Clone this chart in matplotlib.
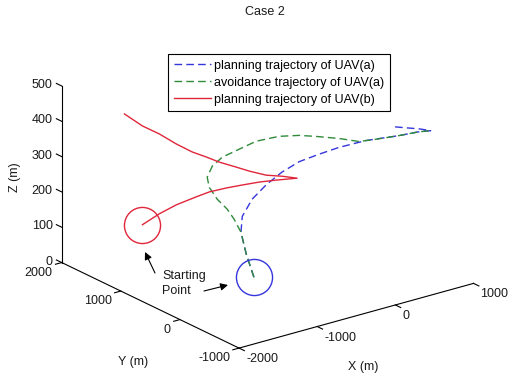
import numpy as np
import matplotlib
matplotlib.use("Agg")
import matplotlib.pyplot as plt
from matplotlib.patches import FancyArrowPatch
from mpl_toolkits.mplot3d import proj3d

plt.rcParams['font.family'] = ['Liberation Sans', 'DejaVu Sans']

# UAV(a) planning trajectory (m)
ua_plan_x = [-1280, -1310, -1310, -1240, -1050, -800, -590, -360, -170, 40, 300, 570, 750, 845, 750, 630, 540]
ua_plan_y = [-300, -210, -120, -50, 35, 120, 140, 150, 75, 10, -105, -300, -400, -480, -405, -310, -230]
ua_plan_z = [100, 160, 215, 250, 280, 300, 320, 335, 350, 362, 375, 388, 396, 400, 405, 408, 410]

# UAV(a) avoidance trajectory (m)
ua_avoid_x = [-1280, -1310, -1310, -1296, -1301, -1333, -1315, -1282, -1145, -989, -776, -546, -306, -139, -30, 110, 209, 340, 570, 750, 845]
ua_avoid_y = [-300, -210, -120, 14, 125, 252, 411, 488, 584, 621, 616, 634, 563, 445, 302, 99, -107, -187, -300, -400, -480]
ua_avoid_z = [100, 160, 215, 240, 260, 280, 300, 320, 335, 348, 358, 365, 370, 372, 374, 376, 378, 382, 388, 396, 400]

# UAV(b) planning trajectory (m)
ub_plan_x = [-1301, -1067, -867, -660, -531, -415, -325, -227, -145, -31, -180, -351, -492, -590, -721, -812, -919, -1033, -1121, -1231, -1306]
ub_plan_y = [1559, 1581, 1558, 1495, 1446, 1311, 1161, 1004, 825, 621, 678, 721, 822, 912, 1026, 1124, 1220, 1339, 1509, 1650, 1856]
ub_plan_z = [100, 115, 130, 145, 155, 170, 185, 200, 215, 230, 240, 250, 262, 272, 285, 297, 310, 330, 350, 368, 390]

x_ticks = [-2000, -1000, 0, 1000]
y_ticks = [-1000, 0, 1000, 2000]
z_ticks = [0, 100, 200, 300, 400, 500]

labels = ['planning trajectory of UAV(a)', 'avoidance trajectory of UAV(a)', 'planning trajectory of UAV(b)']

W, H = 516, 376
fig = plt.figure(figsize=(W / 100, H / 100), dpi=100)
ax = fig.add_axes([(W - H) / 2 / W, 0, H / W, 1], projection='3d', proj_type='ortho')
ax.set_xlim(x_ticks[0], x_ticks[-1])
ax.set_ylim(y_ticks[0], y_ticks[-1])
ax.set_zlim(z_ticks[0], z_ticks[-1])
ax.set_box_aspect((1, 1, 0.645))
ax.view_init(elev=21.4, azim=-127.1)
ax.set_axis_off()

blue, green, red = '#3535dc', '#2f8a3a', '#e0263a'
lb, = ax.plot(ua_plan_x, ua_plan_y, ua_plan_z, color=blue, lw=1.0, dashes=(5.5, 3))
lg, = ax.plot(ua_avoid_x, ua_avoid_y, ua_avoid_z, color=green, lw=1.0, dashes=(5.5, 3))
lr, = ax.plot(ub_plan_x, ub_plan_y, ub_plan_z, color=red, lw=1.0)
# start points
ax.plot(ua_plan_x[:1], ua_plan_y[:1], ua_plan_z[:1], 'o', ms=26, mfc='none', mec=blue, mew=1.0)
ax.plot(ub_plan_x[:1], ub_plan_y[:1], ub_plan_z[:1], 'o', ms=26, mfc='none', mec=red, mew=1.0)

# axis lines, MATLAB "box off" style, ticks pointing out
x0, x1 = x_ticks[0], x_ticks[-1]
y0, y1 = y_ticks[0], y_ticks[-1]
z0, z1 = z_ticks[0], z_ticks[-1]
ak = dict(color='k', lw=0.8)
ax.plot([x0, x1], [y0, y0], [z0, z0], **ak)
ax.plot([x0, x0], [y0, y1], [z0, z0], **ak)
ax.plot([x0, x0], [y1, y1], [z0, z1], **ak)
for t in x_ticks:
    ax.plot([t, t], [y0, y0 - 90], [z0, z0], **ak)
for t in y_ticks:
    ax.plot([x0, x0 - 80], [t, t], [z0, z0], **ak)
for t in z_ticks:
    ax.plot([x0, x0], [y1, y1 + 90], [t, t], **ak)

# scale/shift the axes so the projected box sits where it does in the figure
fig.canvas.draw()


def project(xs, ys, zs):
    px, py, _ = proj3d.proj_transform(np.asarray(xs, float), np.asarray(ys, float),
                                      np.asarray(zs, float), ax.get_proj())
    return ax.transData.transform(np.column_stack([px, py]))


corners = np.array([[x0, y1, z0], [x0, y0, z0], [x1, y0, z0], [x0, y1, z1]], float)
target = np.array([[61, 264], [240, 346], [474, 283], [61, 87]], float)
target[:, 1] = H - target[:, 1]
cur = project(*corners.T)
bb = ax.get_position().transformed(fig.transFigure)
c_old = np.array([bb.x0 + bb.width / 2, bb.y0 + bb.height / 2])
v = cur - c_old
vm, tm = v.mean(0), target.mean(0)
s = ((v - vm) * (target - tm)).sum() / ((v - vm) ** 2).sum()
c_new = tm - s * vm
side = bb.width * s
ax.set_position([(c_new[0] - side / 2) / W, (c_new[1] - side / 2) / H, side / W, side / H])
fig.canvas.draw()

tk = dict(fontsize=9, color='#1a1a1a')


def put(x, y, z, text, dx, dy, **kw):
    p = project([x], [y], [z])[0]
    fig.text((p[0] + dx) / W, (p[1] - dy) / H, text, **kw)


for t in z_ticks:
    put(x0, y1, t, f'{t}', -9, -1, ha='right', va='center', **tk)
for t in y_ticks:
    put(x0, t, z0, f'{t}', -9, 10, ha='right', va='center', **tk)
for t in x_ticks:
    put(t, y0, z0, f'{t}', 7, 11, ha='left', va='center', **tk)

fig.text(363 / W, 1 - 367 / H, 'X (m)', ha='center', va='center', **tk)
fig.text(133 / W, 1 - 362 / H, 'Y (m)', ha='center', va='center', **tk)
fig.text(15 / W, 1 - 177 / H, 'Z (m)', ha='center', va='center', rotation=90, **tk)
fig.text(265 / W, 1 - 12 / H, 'Case 2', ha='center', va='center', **tk)

# starting point annotation
fig.text(162 / W, 1 - 276 / H, 'Starting', ha='left', va='center', **tk)
fig.text(162 / W, 1 - 291 / H, 'Point', ha='left', va='center', **tk)
arr = dict(arrowstyle='-|>', color='k', lw=0.8, mutation_scale=11, shrinkA=0, shrinkB=0)
fig.add_artist(FancyArrowPatch((155 / W, 1 - 273 / H), (145 / W, 1 - 252 / H),
                               transform=fig.transFigure, **arr))
fig.add_artist(FancyArrowPatch((204 / W, 1 - 291 / H), (228 / W, 1 - 285 / H),
                               transform=fig.transFigure, **arr))

leg = fig.legend([lb, lg, lr], labels, loc='upper left', bbox_to_anchor=(168 / W, 1 - 54 / H),
                 bbox_transform=fig.transFigure, borderaxespad=0, fancybox=False, edgecolor='k',
                 framealpha=1, handlelength=3.0, handletextpad=0.25, labelspacing=0.4,
                 borderpad=0.45, fontsize=9)
leg.get_frame().set_linewidth(0.8)

fig.savefig('out.png', dpi=100)
